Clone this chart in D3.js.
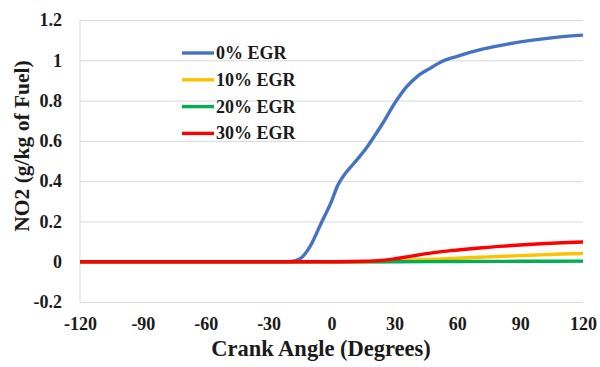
<!DOCTYPE html>
<html>
<head>
<meta charset="utf-8">
<script src="https://cdn.jsdelivr.net/npm/d3@7"></script>
<style>
  html, body { margin: 0; padding: 0; background: #fff; }
  svg text { font-family: "Liberation Serif", "Times New Roman", serif; font-weight: bold; fill: #1a1a1a; }
</style>
</head>
<body>
<svg id="chart" width="600" height="367"></svg>
<script>
// Crank angle positions (degrees) and NO2 (g/kg of fuel) per EGR level
const angles0  = [-120, -30, -20, -15, -10, -5, 0, 3, 6, 10, 17, 24, 31, 36, 41, 47, 53, 60, 72, 84, 96, 108, 120];
const egr0     = [0, 0, 0, 0.015, 0.08, 0.19, 0.30, 0.38, 0.43, 0.48, 0.57, 0.68, 0.80, 0.87, 0.92, 0.96, 0.995, 1.02, 1.055, 1.08, 1.10, 1.115, 1.125];
const angles10 = [-120, 0, 25, 30, 40, 50, 60, 70, 80, 90, 100, 110, 120];
const egr10    = [0, 0, 0, 0.004, 0.009, 0.013, 0.018, 0.022, 0.026, 0.030, 0.034, 0.038, 0.041];
const angles20 = [-120, 0, 30, 60, 90, 120];
const egr20    = [0, 0, 0, 0.001, 0.002, 0.003];
const angles30 = [-120, 0, 10, 15, 20, 25, 30, 35, 40, 48, 56, 64, 72, 80, 90, 100, 110, 120];
const egr30    = [0, 0, 0.001, 0.002, 0.004, 0.008, 0.014, 0.022, 0.031, 0.044, 0.054, 0.062, 0.069, 0.076, 0.083, 0.089, 0.094, 0.098];

const seriesNames = ["0% EGR", "10% EGR", "20% EGR", "30% EGR"];
const xTicks = [-120, -90, -60, -30, 0, 30, 60, 90, 120];
const yTicks = [-0.2, 0, 0.2, 0.4, 0.6, 0.8, 1, 1.2];

const series = [
  { name: seriesNames[0], color: "#4472C4", x: angles0,  y: egr0 },
  { name: seriesNames[1], color: "#FFC000", x: angles10, y: egr10 },
  { name: seriesNames[2], color: "#00B050", x: angles20, y: egr20 },
  { name: seriesNames[3], color: "#FF0000", x: angles30, y: egr30 }
];

const svg = d3.select("#chart");
const plotL = 80, plotR = 583, plotT = 20, plotB = 302;

const x = d3.scaleLinear().domain([-120, 120]).range([plotL, plotR]);
const y = d3.scaleLinear().domain([-0.2, 1.2]).range([plotB, plotT]);

// horizontal gridlines
svg.append("g")
  .attr("transform", `translate(${plotL},0)`)
  .call(d3.axisLeft(y).tickValues(yTicks).tickSize(-(plotR - plotL)).tickFormat(""))
  .call(g => g.select(".domain").remove())
  .call(g => g.selectAll(".tick line").attr("stroke", "#d9d9d9").attr("stroke-width", 1));

// left axis line
svg.append("line")
  .attr("x1", plotL).attr("x2", plotL).attr("y1", plotT).attr("y2", plotB)
  .attr("stroke", "#d9d9d9").attr("stroke-width", 1);

const tickFont = g => g.selectAll("text")
  .attr("font-size", 18).attr("font-family", "Liberation Serif")
  .attr("font-weight", "bold").attr("fill", "#1a1a1a");

// y tick labels (plain hyphen for negatives)
svg.append("g")
  .attr("transform", `translate(${plotL},0)`)
  .call(d3.axisLeft(y).tickValues(yTicks).tickSize(0).tickPadding(18).tickFormat(d => String(+d.toFixed(1))))
  .call(g => g.select(".domain").remove())
  .call(tickFont);

// x tick labels
svg.append("g")
  .attr("transform", `translate(0,${plotB})`)
  .call(d3.axisBottom(x).tickValues(xTicks).tickSize(0).tickPadding(15).tickFormat(d => String(d)))
  .call(g => g.select(".domain").remove())
  .call(tickFont);

// series lines
const line = d3.line().x(d => x(d[0])).y(d => y(d[1])).curve(d3.curveMonotoneX);
series.forEach(s => {
  const pts = s.x.map((a, i) => [a, s.y[i]]);
  svg.append("path")
    .datum(pts)
    .attr("d", line)
    .attr("fill", "none")
    .attr("stroke", s.color)
    .attr("stroke-width", 3.4)
    .attr("stroke-linejoin", "round");
});

// legend
const legend = svg.append("g");
series.forEach((s, i) => {
  const ly = 53 + i * 26.8;
  legend.append("line")
    .attr("x1", 182).attr("x2", 214).attr("y1", ly).attr("y2", ly)
    .attr("stroke", s.color).attr("stroke-width", 3.4);
  legend.append("text")
    .attr("x", 216).attr("y", ly + 6)
    .attr("font-size", 18)
    .text(s.name);
});

// axis titles
svg.append("text")
  .attr("x", 321).attr("y", 356)
  .attr("text-anchor", "middle")
  .attr("font-size", 22.5)
  .text("Crank Angle (Degrees)");

svg.append("text")
  .attr("transform", "translate(29,146) rotate(-90)")
  .attr("text-anchor", "middle")
  .attr("font-size", 21.5)
  .text("NO2 (g/kg of Fuel)");
</script>
</body>
</html>
